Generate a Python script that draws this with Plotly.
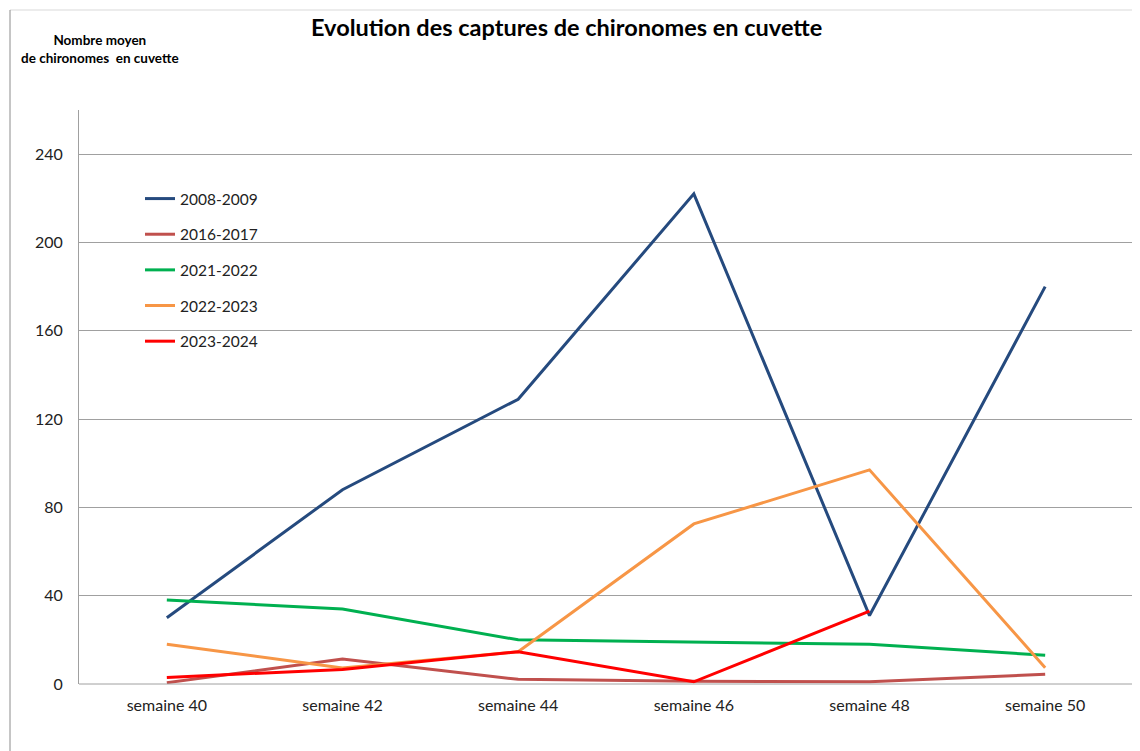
import plotly.graph_objects as go

weeks = ["semaine 40", "semaine 42", "semaine 44", "semaine 46", "semaine 48", "semaine 50"]
s2008 = [30, 88, 129, 222, 31, 180]
s2016 = [0.6, 11.3, 2.1, 1.2, 1.0, 4.4]
s2021 = [38, 34, 20, 19, 18, 13]
s2022 = [18, 7.2, 14.6, 72.5, 97, 7.4]
s2023 = [3, 6.6, 14.6, 1, 33]

series = [
    ("2008-2009", s2008, "#254A7E"),
    ("2016-2017", s2016, "#C0504D"),
    ("2021-2022", s2021, "#00B050"),
    ("2022-2023", s2022, "#F79646"),
    ("2023-2024", s2023, "#FF0000"),
]

FONT = "Lato"
OFF = 8  # default page body margin
W, H = 1140 - OFF, 751 - OFF
# plot area in page pixels: x 79..1133, y 110..684
L, R, T, B = 79 - OFF, 1140 - 1133, 110 - OFF, 751 - 684
pw, ph = W - L - R, H - T - B

def px(x):
    return (x - OFF - L) / pw

def py(y):
    return (H - B - (y - OFF)) / ph

fig = go.Figure()
for i, (name, vals, color) in enumerate(series):
    fig.add_trace(go.Scatter(
        x=list(range(len(vals))), y=vals, mode="lines", name=name,
        line=dict(color=color, width=3), legendgroup=name,
    ))

fig.update_layout(
    width=W, height=H,
    margin=dict(l=L, r=R, t=T, b=B),
    paper_bgcolor="white", plot_bgcolor="white",
    font=dict(family=FONT, size=16, color="#222222"),
    showlegend=True,
    legend=dict(x=px(140), y=py(182), xanchor="left", yanchor="top",
                bgcolor="rgba(0,0,0,0)", font=dict(size=15.5, family=FONT),
                tracegroupgap=12.5, itemwidth=30),
    xaxis=dict(range=[-0.5, 5.5], tickmode="array", tickvals=list(range(len(weeks))),
               ticktext=weeks, showgrid=False, zeroline=False, showline=False,
               ticks="", tickfont=dict(size=16), ticklabelstandoff=10),
    yaxis=dict(range=[0, 260], tickmode="array", tickvals=[0, 40, 80, 120, 160, 200, 240],
               showgrid=True, gridcolor="#A0A0A0", gridwidth=1, zeroline=False,
               showline=True, linecolor="#A0A0A0", linewidth=1, ticks="",
               ticklabelstandoff=12, tickfont=dict(size=16)),
    annotations=[
        dict(text="<b>Evolution des captures de chironomes en cuvette</b>",
             x=px(566), y=py(27), xref="paper", yref="paper", showarrow=False,
             xanchor="center", yanchor="middle", font=dict(size=23.5, family=FONT, color="#000000")),
        dict(text="<b>Nombre moyen</b><br><b>de chironomes  en cuvette</b>",
             x=px(100), y=py(49), xref="paper", yref="paper", showarrow=False,
             xanchor="center", yanchor="middle", align="center",
             font=dict(size=13.5, family=FONT, color="#000000")),
    ],
    shapes=[
        dict(type="line", xref="paper", yref="paper", x0=px(10), x1=px(1140), y0=py(10), y1=py(10),
             line=dict(color="#D9D9D9", width=1)),
        dict(type="line", xref="paper", yref="paper", x0=px(10), x1=px(10), y0=py(10), y1=py(751),
             line=dict(color="#8C8C8C", width=1)),
        dict(type="line", xref="paper", yref="paper", x0=0, x1=1, y0=0, y1=0,
             line=dict(color="#A0A0A0", width=1)),
    ],
)

fig.write_html("out.html")
